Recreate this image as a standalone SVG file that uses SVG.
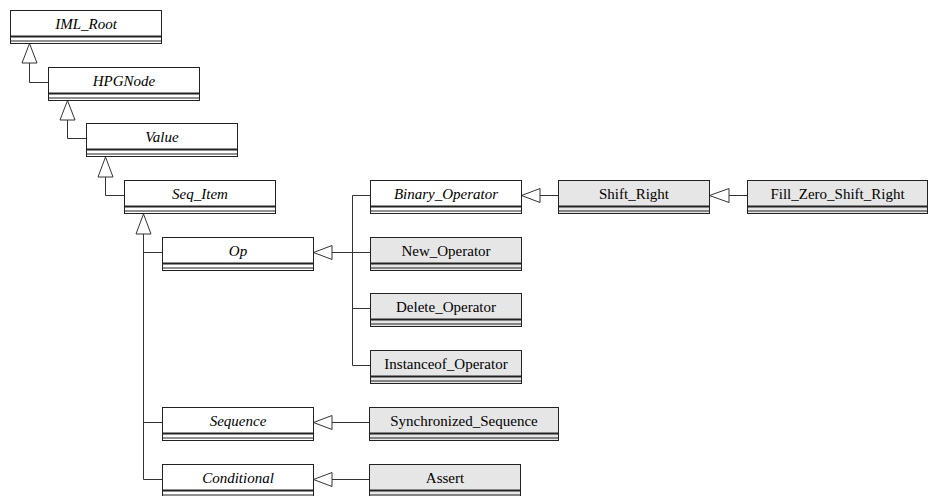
<svg xmlns="http://www.w3.org/2000/svg" width="929" height="496" viewBox="0 0 929 496" font-family="Liberation Serif, Times New Roman, serif" font-size="15" text-anchor="middle">
  <style>
    .box { stroke: #222; stroke-width: 1; }
    .abs { fill: #ffffff; }
    .con { fill: #e6e6e6; }
    .sep { stroke: #222; stroke-width: 1; }
    .sep2 { stroke: #222; stroke-width: 2; }
    .edge { fill: none; stroke: #333; stroke-width: 1; }
    .tri { fill: #ffffff; stroke: #333; stroke-width: 1; }
  </style>
  <defs>
    <!-- class body: name compartment plus two empty compartments -->
    <g id="comp151">
      <line class="sep2" x1="0" y1="26" x2="151" y2="26"/>
      <line class="sep" x1="0" y1="30.5" x2="151" y2="30.5"/>
    </g>
    <g id="comp189">
      <line class="sep2" x1="0" y1="26" x2="189" y2="26"/>
      <line class="sep" x1="0" y1="30.5" x2="189" y2="30.5"/>
    </g>
    <g id="comp180">
      <line class="sep2" x1="0" y1="26" x2="180" y2="26"/>
      <line class="sep" x1="0" y1="30.5" x2="180" y2="30.5"/>
    </g>
  </defs>

  <!-- inheritance connectors -->
  <g id="connectors">
    <!-- vertical chain -->
    <polyline class="edge" points="29.5,63 29.5,82.5 48,82.5"/>
    <polygon class="tri" points="29.5,43.5 22,63 37,63"/>
    <polyline class="edge" points="67.5,120 67.5,138.5 86,138.5"/>
    <polygon class="tri" points="67.5,100.5 60,120 75,120"/>
    <polyline class="edge" points="105.5,177 105.5,195.5 124,195.5"/>
    <polygon class="tri" points="105.5,157 98,177 113,177"/>
    <polyline class="edge" points="143.5,234 143.5,479.5 162,479.5"/>
    <line class="edge" x1="143.5" y1="252.5" x2="162" y2="252.5"/>
    <line class="edge" x1="143.5" y1="422.5" x2="162" y2="422.5"/>
    <polygon class="tri" points="143.5,214 136,234 151,234"/>

    <!-- Op subclasses -->
    <line class="edge" x1="332" y1="252.5" x2="352.5" y2="252.5"/>
    <line class="edge" x1="352.5" y1="195.5" x2="352.5" y2="365.5"/>
    <line class="edge" x1="352.5" y1="195.5" x2="370" y2="195.5"/>
    <line class="edge" x1="352.5" y1="252.5" x2="370" y2="252.5"/>
    <line class="edge" x1="352.5" y1="308.5" x2="370" y2="308.5"/>
    <line class="edge" x1="352.5" y1="365.5" x2="370" y2="365.5"/>
    <polygon class="tri" points="313.5,252.5 332,245.5 332,259.5"/>

    <!-- Sequence / Conditional subclasses -->
    <line class="edge" x1="332" y1="422.5" x2="369" y2="422.5"/>
    <polygon class="tri" points="313.5,422.5 332,415.5 332,429.5"/>
    <line class="edge" x1="332" y1="479.5" x2="369" y2="479.5"/>
    <polygon class="tri" points="313.5,479.5 332,472.5 332,486.5"/>

    <!-- operator shifts -->
    <line class="edge" x1="540" y1="195.5" x2="558" y2="195.5"/>
    <polygon class="tri" points="521.5,195.5 540,188.5 540,202.5"/>
    <line class="edge" x1="729" y1="195.5" x2="747" y2="195.5"/>
    <polygon class="tri" points="709.5,195.5 729,188.5 729,202.5"/>
  </g>

  <g id="IML_Root" transform="translate(10.5,10.5)">
    <rect class="box abs" width="151" height="33"/>
    <use href="#comp151"/>
    <text font-style="italic" x="75.5" y="18.5">IML_Root</text>
  </g>
  <g id="HPGNode" transform="translate(48.5,67.5)">
    <rect class="box abs" width="151" height="33"/>
    <use href="#comp151"/>
    <text font-style="italic" x="75.5" y="18.5">HPGNode</text>
  </g>
  <g id="Value" transform="translate(86.5,123.5)">
    <rect class="box abs" width="151" height="33"/>
    <use href="#comp151"/>
    <text font-style="italic" x="75.5" y="18.5">Value</text>
  </g>
  <g id="Seq_Item" transform="translate(124.5,180.5)">
    <rect class="box abs" width="151" height="33"/>
    <use href="#comp151"/>
    <text font-style="italic" x="75.5" y="18.5">Seq_Item</text>
  </g>
  <g id="Op" transform="translate(162.5,237.5)">
    <rect class="box abs" width="151" height="33"/>
    <use href="#comp151"/>
    <text font-style="italic" x="75.5" y="18.5">Op</text>
  </g>
  <g id="Sequence" transform="translate(162.5,407.5)">
    <rect class="box abs" width="151" height="33"/>
    <use href="#comp151"/>
    <text font-style="italic" x="75.5" y="18.5">Sequence</text>
  </g>
  <g id="Conditional" transform="translate(162.5,464.5)">
    <rect class="box abs" width="151" height="33"/>
    <use href="#comp151"/>
    <text font-style="italic" x="75.5" y="18.5">Conditional</text>
  </g>
  <g id="Binary_Operator" transform="translate(370.5,180.5)">
    <rect class="box abs" width="151" height="33"/>
    <use href="#comp151"/>
    <text font-style="italic" x="75.5" y="18.5">Binary_Operator</text>
  </g>
  <g id="New_Operator" transform="translate(370.5,237.5)">
    <rect class="box con" width="151" height="33"/>
    <use href="#comp151"/>
    <text x="75.5" y="18.5">New_Operator</text>
  </g>
  <g id="Delete_Operator" transform="translate(370.5,293.5)">
    <rect class="box con" width="151" height="33"/>
    <use href="#comp151"/>
    <text x="75.5" y="18.5">Delete_Operator</text>
  </g>
  <g id="Instanceof_Operator" transform="translate(370.5,350.5)">
    <rect class="box con" width="151" height="33"/>
    <use href="#comp151"/>
    <text x="75.5" y="18.5">Instanceof_Operator</text>
  </g>
  <g id="Synchronized_Sequence" transform="translate(369.5,407.5)">
    <rect class="box con" width="189" height="33"/>
    <use href="#comp189"/>
    <text x="94.5" y="18.5">Synchronized_Sequence</text>
  </g>
  <g id="Assert" transform="translate(369.5,464.5)">
    <rect class="box con" width="151" height="33"/>
    <use href="#comp151"/>
    <text x="75.5" y="18.5">Assert</text>
  </g>
  <g id="Shift_Right" transform="translate(558.5,180.5)">
    <rect class="box con" width="151" height="33"/>
    <use href="#comp151"/>
    <text x="75.5" y="18.5">Shift_Right</text>
  </g>
  <g id="Fill_Zero_Shift_Right" transform="translate(747.5,180.5)">
    <rect class="box con" width="180" height="33"/>
    <use href="#comp180"/>
    <text x="90" y="18.5">Fill_Zero_Shift_Right</text>
  </g>
</svg>
